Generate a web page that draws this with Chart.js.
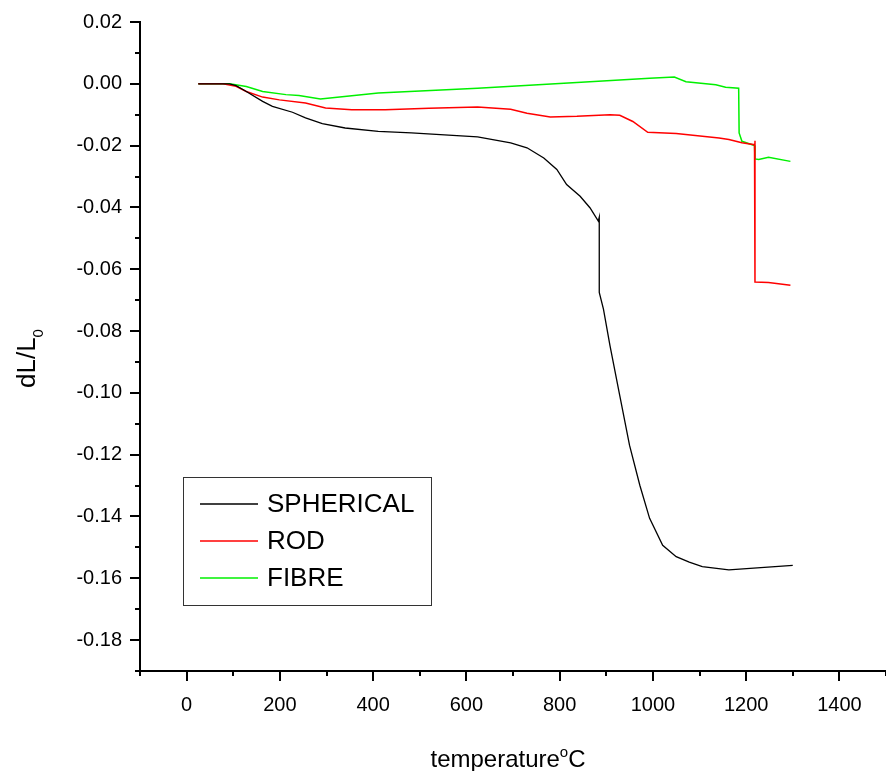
<!DOCTYPE html>
<html>
<head>
<meta charset="utf-8">
<script src="https://cdn.jsdelivr.net/npm/chart.js@4.4.0/dist/chart.umd.min.js"></script>
<style>
  html, body { margin: 0; padding: 0; background: #fff; }
</style>
</head>
<body>
<canvas id="dilatometry" width="886" height="771"></canvas>
<script>
// temperature (°C) and dL/L0
const sphericalTemp = [25, 92, 106, 128, 163, 184, 227, 255, 291, 340, 411, 482, 553, 624, 695, 730, 766, 794, 815, 844, 865, 883, 885, 885, 894, 908, 929, 950, 972, 993, 1021, 1050, 1078, 1106, 1163, 1300];
const sphericalVal = [0, 0, -0.0006, -0.0025, -0.0057, -0.0073, -0.0092, -0.011, -0.0129, -0.0143, -0.0154, -0.0159, -0.0165, -0.0172, -0.0191, -0.0207, -0.024, -0.0277, -0.0326, -0.0364, -0.0401, -0.0444, -0.0432, -0.0675, -0.0729, -0.0847, -0.1009, -0.117, -0.1299, -0.1406, -0.1493, -0.153, -0.1548, -0.1562, -0.1573, -0.1558];

const rodTemp = [25, 78, 106, 128, 163, 199, 255, 298, 354, 426, 520, 624, 695, 730, 780, 837, 908, 929, 957, 989, 1050, 1142, 1163, 1191, 1218, 1219, 1219, 1248, 1295];
const rodVal = [0, 0, -0.0008, -0.0025, -0.0043, -0.0052, -0.0062, -0.0078, -0.0084, -0.0084, -0.0079, -0.0075, -0.0082, -0.0095, -0.0107, -0.0105, -0.0100, -0.0102, -0.0122, -0.0157, -0.0161, -0.0175, -0.018, -0.0191, -0.0197, -0.0184, -0.0641, -0.0643, -0.0652];

const fibreTemp = [25, 92, 128, 163, 213, 241, 287, 411, 624, 837, 993, 1046, 1071, 1135, 1156, 1184, 1185, 1191, 1213, 1218, 1219, 1227, 1248, 1295];
const fibreVal = [0, 0, -0.0009, -0.0025, -0.0035, -0.0038, -0.0049, -0.003, -0.0014, 0.0004, 0.0018, 0.0022, 0.0007, -0.0003, -0.0011, -0.0014, -0.0159, -0.0186, -0.0197, -0.020, -0.0243, -0.0245, -0.0238, -0.0251];

const seriesNames = ['SPHERICAL', 'ROD', 'FIBRE'];
const seriesColors = ['#000000', '#ff0000', '#00f000'];

const FONT = "'Liberation Sans', Arial, sans-serif";

function toPoints(xs, ys) {
  return xs.map((x, i) => ({ x: x, y: ys[i] }));
}

// keep the plot box where the original has it
function noPadding(s) {
  s.paddingLeft = 0;
  s.paddingRight = 0;
  s.paddingTop = 0;
  s.paddingBottom = 0;
}

// short ticks between the labelled ones, like the original plot
const axisDecor = {
  id: 'axisDecor',
  afterDraw(chart) {
    const { ctx, chartArea, scales } = chart;
    ctx.save();
    ctx.strokeStyle = '#000';
    ctx.lineWidth = 2;

    scales.x.ticks.forEach(t => {
      const px = Math.round(scales.x.getPixelForValue(t.value));
      const len = t.label !== '' ? 10 : 5;
      ctx.beginPath();
      ctx.moveTo(px, chartArea.bottom);
      ctx.lineTo(px, chartArea.bottom + len);
      ctx.stroke();
    });
    scales.y.ticks.forEach(t => {
      const py = Math.round(scales.y.getPixelForValue(t.value));
      const len = t.label !== '' ? 10 : 5;
      ctx.beginPath();
      ctx.moveTo(chartArea.left, py);
      ctx.lineTo(chartArea.left - len, py);
      ctx.stroke();
    });

    // x title with superscript o
    ctx.fillStyle = '#000';
    ctx.textBaseline = 'alphabetic';
    ctx.font = '24px ' + FONT;
    const w1 = ctx.measureText('temperature').width;
    const w3 = ctx.measureText('C').width;
    ctx.font = '15px ' + FONT;
    const w2 = ctx.measureText('o').width;
    let x0 = (chartArea.left + chartArea.right) / 2 - 5 - (w1 + w2 + w3) / 2;
    ctx.font = '24px ' + FONT;
    ctx.fillText('temperature', x0, 767);
    ctx.font = '15px ' + FONT;
    ctx.fillText('o', x0 + w1, 757);
    ctx.font = '24px ' + FONT;
    ctx.fillText('C', x0 + w1 + w2, 767);

    // y title dL/L0, rotated
    ctx.save();
    ctx.translate(35, 354);
    ctx.rotate(-Math.PI / 2);
    ctx.font = '26px ' + FONT;
    const m = ctx.measureText('dL/L').width;
    ctx.fillText('dL/L', -34, 0);
    ctx.font = '15px ' + FONT;
    ctx.fillText('0', -34 + m, 8);
    ctx.restore();

    // legend box
    ctx.lineWidth = 1;
    ctx.strokeStyle = '#333';
    ctx.strokeRect(183.5, 477.5, 248, 128);
    ctx.font = '26px ' + FONT;
    ctx.textBaseline = 'middle';
    seriesNames.forEach((name, i) => {
      const y = 504 + i * 37;
      ctx.strokeStyle = seriesColors[i];
      ctx.lineWidth = 1.5;
      ctx.beginPath();
      ctx.moveTo(200, y);
      ctx.lineTo(258, y);
      ctx.stroke();
      ctx.fillStyle = '#000';
      ctx.fillText(name, 267, y + 1);
    });
    ctx.restore();
  }
};

new Chart(document.getElementById('dilatometry'), {
  type: 'line',
  data: {
    datasets: [
      { label: seriesNames[0], data: toPoints(sphericalTemp, sphericalVal), borderColor: seriesColors[0], borderWidth: 1.3 },
      { label: seriesNames[1], data: toPoints(rodTemp, rodVal), borderColor: seriesColors[1], borderWidth: 1.5 },
      { label: seriesNames[2], data: toPoints(fibreTemp, fibreVal), borderColor: seriesColors[2], borderWidth: 1.5 }
    ]
  },
  options: {
    responsive: false,
    animation: false,
    layout: { autoPadding: false, padding: { top: 22, right: 0, left: 0, bottom: 0 } },
    elements: { point: { radius: 0 }, line: { tension: 0 } },
    plugins: { legend: { display: false }, tooltip: { enabled: false } },
    scales: {
      x: {
        type: 'linear',
        min: -100,
        max: 1500,
        grid: { display: false, drawTicks: false },
        border: { display: true, color: '#000', width: 2 },
        ticks: {
          stepSize: 100,
          autoSkip: false,
          maxRotation: 0,
          padding: 22,
          color: '#000',
          font: { family: FONT, size: 20 },
          callback: v => (v % 200 === 0 ? String(v) : '')
        },
        afterFit: s => { s.height = 100; noPadding(s); }
      },
      y: {
        type: 'linear',
        min: -0.19,
        max: 0.02,
        grid: { display: false, drawTicks: false },
        border: { display: true, color: '#000', width: 2 },
        ticks: {
          stepSize: 0.01,
          autoSkip: false,
          padding: 18,
          color: '#000',
          font: { family: FONT, size: 20 },
          callback: v => {
            const n = Math.round(v * 100);
            return n % 2 === 0 ? (n / 100).toFixed(2) : '';
          }
        },
        afterFit: s => { s.width = 140; noPadding(s); }
      }
    }
  },
  plugins: [axisDecor]
});
</script>
</body>
</html>
